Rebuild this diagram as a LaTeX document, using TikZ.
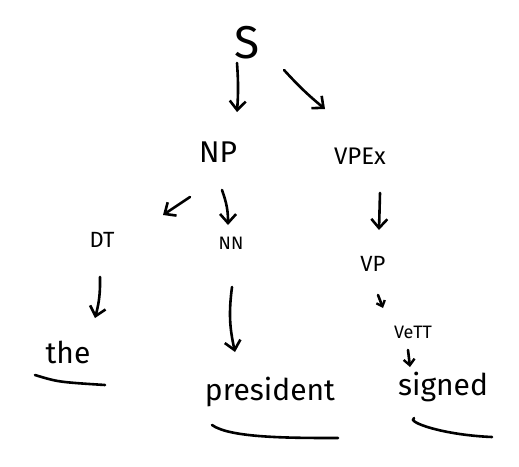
\documentclass[tikz,border=0pt]{standalone}
\usepackage{fontspec}
\setmainfont{Fira Sans}
\usetikzlibrary{arrows.meta,calc}
\tikzset{
  lbl/.style={inner sep=0pt, text=black},
  arr/.style={line width=2.6pt, line cap=round, line join=round, -{Straight Barb[length=9pt,width=16pt,line width=2.6pt]}},
  uline/.style={line width=2.6pt, line cap=round}
}
\begin{document}
\begin{tikzpicture}[x=1pt,y=-1pt]
\useasboundingbox (0,0) rectangle (519,466);
\node[lbl, font=\fontsize{46}{46}\selectfont] (S) at (247,43) {S};
\node[lbl, font=\fontsize{30}{30}\selectfont] (NP) at (218,152) {NP};
\node[lbl, font=\fontsize{24}{24}\selectfont] (VPEx) at (360,156) {VPEx};
\node[lbl, font=\fontsize{22}{22}\selectfont] (DT) at (102,240) {DT};
\node[lbl, font=\fontsize{18}{18}\selectfont] (NN) at (231,243) {NN};
\node[lbl, font=\fontsize{22}{22}\selectfont] (VP) at (373,264) {VP};
\node[lbl, font=\fontsize{18}{18}\selectfont] (VeTT) at (413,332) {VeTT};
\node[lbl, font=\fontsize{30}{30}\selectfont] (the) at (68,352) {the};
\node[lbl, font=\fontsize{30}{30}\selectfont] (president) at (270,392) {president};
\node[lbl, font=\fontsize{30}{30}\selectfont] (signed) at (443,387) {signed};
% connectors
\draw[arr] ($(S)+(-10,20)$) to[bend left=4] ($(NP)+(19,-40)$);
\draw[arr] ($(S)+(37,27)$) to[bend right=4] ($(VPEx)+(-35,-47)$);
\draw[arr] ($(NP)+(-28,45)$) -- ($(DT)+(61,-25)$);
\draw[arr] ($(NP)+(4,38)$) to[bend left=10] ($(NN)+(-3,-18)$);
\draw[arr] ($(VPEx)+(20,37)$) -- ($(VP)+(6,-34)$);
\draw[arr] ($(DT)+(-2,37)$) to[bend left=8] ($(the)+(27,-34)$);
\draw[arr] ($(NN)+(1,44)$) to[bend right=10] ($(president)+(-35,-40)$);
\draw[arr, -{Straight Barb[length=5pt,width=9pt,line width=2.4pt]}] ($(VP)+(5,31)$) -- ($(VeTT)+(-30,-24)$);
\draw[arr, -{Straight Barb[length=6pt,width=11pt,line width=2.4pt]}] ($(VeTT)+(-5,18)$) -- ($(signed)+(-33,-20)$);
% underlines
\coordinate (u1a) at ($(the)+(-33,23)$);
\coordinate (u1b) at ($(the)+(37,33)$);
\draw[uline] (u1a) .. controls ($(the)+(-10,30)$) .. (u1b);
\coordinate (u2a) at ($(president)+(-58,33)$);
\coordinate (u2b) at ($(president)+(68,46)$);
\draw[uline] (u2a) .. controls ($(president)+(-40,46)$) and ($(president)+(20,46)$) .. (u2b);
\coordinate (u3a) at ($(signed)+(-29,31)$);
\coordinate (u3b) at ($(signed)+(49,50)$);
\draw[uline] (u3a) .. controls ($(signed)+(-37,35)$) and ($(signed)+(0,48)$) .. (u3b);
\end{tikzpicture}
\end{document}
